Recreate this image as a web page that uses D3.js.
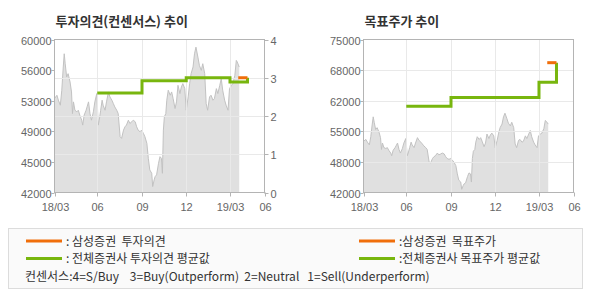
<!DOCTYPE html>
<html>
<head>
<meta charset="utf-8">
<script src="https://d3js.org/d3.v7.min.js"></script>
<style>
  body { margin:0; background:#fff; }
  text { font-family:"Liberation Sans", Arial, sans-serif; }
  .kr { font-family:"Noto Sans CJK KR", sans-serif; }
</style>
</head>
<body>
<div class="chart"></div>
<script>
// stock price (won)
var priceDates = ["2018-03-05","2018-03-10","2018-03-13","2018-03-17","2018-03-20","2018-03-23","2018-03-25","2018-03-27","2018-03-30","2018-04-02",
    "2018-04-06","2018-04-09","2018-04-11","2018-04-13","2018-04-16","2018-04-20","2018-04-23","2018-04-26","2018-04-30","2018-05-02",
    "2018-05-05","2018-05-09","2018-05-11","2018-05-14","2018-05-17","2018-05-20","2018-05-24","2018-05-27","2018-05-31","2018-06-03",
    "2018-06-05","2018-06-08","2018-06-11","2018-06-13","2018-06-17","2018-06-20","2018-06-24","2018-06-27","2018-07-01","2018-07-04",
    "2018-07-07","2018-07-11","2018-07-14","2018-07-18","2018-07-21","2018-07-25","2018-07-28","2018-07-31","2018-08-04","2018-08-07",
    "2018-08-11","2018-08-14","2018-08-18","2018-08-21","2018-08-24","2018-08-28","2018-08-31","2018-09-04","2018-09-07","2018-09-11",
    "2018-09-14","2018-09-17","2018-09-21","2018-09-23","2018-09-26","2018-09-28","2018-10-01","2018-10-05","2018-10-08","2018-10-11",
    "2018-10-13","2018-10-15","2018-10-17","2018-10-20","2018-10-22","2018-10-25","2018-10-29","2018-11-01","2018-11-04","2018-11-08",
    "2018-11-11","2018-11-14","2018-11-18","2018-11-21","2018-11-24","2018-11-28","2018-12-01","2018-12-05","2018-12-08","2018-12-11",
    "2018-12-15","2018-12-18","2018-12-21","2018-12-25","2018-12-28","2019-01-01","2019-01-04","2019-01-08","2019-01-11","2019-01-14",
    "2019-01-18","2019-01-21","2019-01-25","2019-01-28","2019-02-01","2019-02-04","2019-02-08","2019-02-11","2019-02-14","2019-02-18",
    "2019-02-21","2019-02-25","2019-02-28","2019-03-04","2019-03-07","2019-03-11","2019-03-14","2019-03-16","2019-03-20"];
var priceValues = [53050,53440,52860,52270,54030,56760,58320,57150,55590,55980,
    55000,53830,51290,52660,51680,51490,51680,51100,50510,49930,
    51100,51680,52070,52660,51290,50510,51490,52660,53640,49930,
    50510,51680,52860,52270,51680,52660,53830,53250,52860,52470,
    52070,51680,51290,48560,48370,49340,49730,49930,50510,50120,
    50320,50510,50320,49730,49340,49150,49340,48950,48560,47780,
    46020,44660,44260,42700,43480,43870,44070,45440,46220,46020,
    44260,49340,50900,51290,52860,54030,53440,53830,53050,51880,
    52660,54610,53640,54420,54810,54220,51680,53250,54810,55980,
    56760,58320,59100,57930,56960,56370,57150,55980,52470,51680,
    53250,53440,52860,53050,54220,53640,54610,55390,54030,52860,
    52270,51680,54220,54610,54810,55780,57540,57350,56760];

// 투자의견 consensus (전체증권사 평균) and 삼성증권
var opinionAvgDates = ["2018-06-01","2018-09-01","2018-12-01","2019-03-01","2019-04-06"];
var opinionAvgValues = [2.6, 2.92, 3.0, 2.89, 3.0];
var opinionSsDates = ["2019-03-18","2019-04-06"];
var opinionSsValues = [3.0, 3.0];

// 목표주가
var targetAvgDates = ["2018-06-01","2018-09-01","2019-03-01","2019-04-06"];
var targetAvgValues = [60600, 62500, 65800, 70000];
var targetSsDates = ["2019-03-18","2019-04-06"];
var targetSsValues = [70000, 70000];

// axis ticks
var xTickDates = ["2018-03-05","2018-06-01","2018-09-01","2018-12-01","2019-03-01","2019-05-11"];
var xTickLabels = ["18/03","06","09","12","19/03","06"];
var leftTicks1 = [42000,45600,49200,52800,56400,60000];
var leftLabels1 = ["42000","45000","49000","53000","56000","60000"];
var rightTicks1 = [0,1,2,3,4];
var leftTicks2 = [42000,48600,55200,61800,68400,75000];
var leftLabels2 = ["42000","48000","55000","62000","68000","75000"];

var parse = d3.timeParse("%Y-%m-%d");
var priceData = priceDates.map(function(d,i){ return {date:parse(d), value:priceValues[i]}; });
function zipData(dates, values){
    return dates.map(function(d,i){ return {date:parse(d), value:values[i]}; });
}

var orange = "#f06e0a",
    green = "#78b60e",
    axisColor = "#b4b4b4",
    gridColor = "#e9e9e9";

var svg = d3.select(".chart").append("svg")
    .attr("width", 590)
    .attr("height", 300);

function drawPanel(opt)
{
    var g = svg.append("g");
    var x = d3.scaleTime()
        .domain([parse("2018-03-05"), parse("2019-05-11")])
        .range([opt.x0, opt.x1]);
    var yPrice = d3.scaleLinear()
        .domain(opt.priceDomain)
        .range([192.5, 39.5]);
    var yLine = opt.lineScale || yPrice;

    // title
    g.append("text")
        .attr("class","kr")
        .attr("x", opt.x0 + 1)
        .attr("y", 26)
        .attr("font-size", 13)
        .attr("font-weight", "bold")
        .attr("fill", "#333")
        .text(opt.title);

    // price area
    var area = d3.area()
        .x(function(d){ return x(d.date); })
        .y0(192.5)
        .y1(function(d){ return yPrice(d.value); });
    var line = d3.line()
        .x(function(d){ return x(d.date); })
        .y(function(d){ return yPrice(d.value); });
    g.append("path")
        .datum(priceData)
        .attr("d", area)
        .attr("fill", "#e0e0e0");
    g.append("path")
        .datum(priceData)
        .attr("d", line)
        .attr("fill", "none")
        .attr("stroke", "#c2c2c2")
        .attr("stroke-width", 1);

    // grid
    xTickDates.slice(1, 5).forEach(function(d){
        g.append("line")
            .attr("x1", Math.round(x(parse(d))) + 0.5).attr("x2", Math.round(x(parse(d))) + 0.5)
            .attr("y1", 39.5).attr("y2", 192.5)
            .attr("stroke", gridColor);
    });
    opt.gridValues.forEach(function(v){
        g.append("line")
            .attr("x1", opt.x0).attr("x2", opt.x1)
            .attr("y1", Math.round(yLine(v)) + 0.5).attr("y2", Math.round(yLine(v)) + 0.5)
            .attr("stroke", gridColor);
    });

    // frame
    g.append("rect")
        .attr("x", opt.x0).attr("y", 39.5)
        .attr("width", opt.x1 - opt.x0).attr("height", 153)
        .attr("fill", "none")
        .attr("stroke", axisColor);

    // x axis ticks/labels
    xTickDates.forEach(function(d, i){
        var xx = Math.round(x(parse(d))) + 0.5;
        g.append("line")
            .attr("x1", xx).attr("x2", xx)
            .attr("y1", 192.5).attr("y2", 196.5)
            .attr("stroke", axisColor);
        g.append("text")
            .attr("x", xx)
            .attr("y", 211)
            .attr("text-anchor", "middle")
            .attr("font-size", 11)
            .attr("fill", "#666")
            .text(xTickLabels[i]);
    });

    // left labels
    opt.leftTicks.forEach(function(v, i){
        var yy = Math.round(yPrice(v)) + 0.5;
        g.append("line")
            .attr("x1", opt.x0 - 3).attr("x2", opt.x0)
            .attr("y1", yy).attr("y2", yy)
            .attr("stroke", axisColor);
        g.append("text")
            .attr("x", opt.x0 - 3)
            .attr("y", yy + 4)
            .attr("text-anchor", "end")
            .attr("font-size", 11)
            .attr("fill", "#666")
            .text(opt.leftLabels[i]);
    });

    // right labels (opinion scale)
    if (opt.lineScale) {
        rightTicks1.forEach(function(v){
            var yy = Math.round(yLine(v)) + 0.5;
            g.append("line")
                .attr("x1", opt.x1).attr("x2", opt.x1 + 4)
                .attr("y1", yy).attr("y2", yy)
                .attr("stroke", axisColor);
            g.append("text")
                .attr("x", opt.x1 + 6)
                .attr("y", yy + 4)
                .attr("font-size", 11)
                .attr("fill", "#666")
                .text(v);
        });
    }

    var step = d3.line()
        .x(function(d){ return x(d.date); })
        .y(function(d){ return yLine(d.value); })
        .curve(d3.curveStepAfter);
    g.append("path")
        .datum(opt.avgData)
        .attr("d", step)
        .attr("fill", "none")
        .attr("stroke", green)
        .attr("stroke-width", 3);
    g.append("path")
        .datum(opt.ssData)
        .attr("d", step)
        .attr("fill", "none")
        .attr("stroke", orange)
        .attr("stroke-width", 3);
}

var opinionScale = d3.scaleLinear().domain([0, 4]).range([192.5, 39.5]);

drawPanel({
    title: "투자의견(컨센서스) 추이",
    x0: 54.5, x1: 264.5,
    priceDomain: [42000, 60000],
    leftTicks: leftTicks1, leftLabels: leftLabels1,
    lineScale: opinionScale,
    gridValues: [1, 2, 3],
    avgData: zipData(opinionAvgDates, opinionAvgValues),
    ssData: zipData(opinionSsDates, opinionSsValues)
});

drawPanel({
    title: "목표주가 추이",
    x0: 363.5, x1: 573.5,
    priceDomain: [42000, 75000],
    leftTicks: leftTicks2, leftLabels: leftLabels2,
    gridValues: leftTicks2.slice(1, 5),
    avgData: zipData(targetAvgDates, targetAvgValues),
    ssData: zipData(targetSsDates, targetSsValues)
});

// legend
var legend = svg.append("g");
legend.append("rect")
    .attr("x", 8.5).attr("y", 228.5)
    .attr("width", 574).attr("height", 60)
    .attr("fill", "#fafafa")
    .attr("stroke", "#dcdcdc");

var legendItems = [
    {x:26, y:241, color:orange, label:": 삼성증권  투자의견"},
    {x:26, y:258.5, color:green, label:": 전체증권사 투자의견 평균값"},
    {x:359, y:241, color:orange, label:":삼성증권  목표주가"},
    {x:359, y:258.5, color:green, label:":전체증권사 목표주가 평균값"}
];
legendItems.forEach(function(d){
    legend.append("line")
        .attr("x1", d.x).attr("x2", d.x + 36)
        .attr("y1", d.y).attr("y2", d.y)
        .attr("stroke", d.color)
        .attr("stroke-width", 3);
    legend.append("text")
        .attr("class", "kr")
        .attr("x", d.x + 40)
        .attr("y", d.y + 4.5)
        .attr("font-size", 12)
        .attr("fill", "#333")
        .style("white-space", "pre")
        .text(d.label);
});
legend.append("text")
    .attr("class", "kr")
    .attr("x", 25)
    .attr("y", 281)
    .attr("font-size", 12)
    .attr("fill", "#333")
    .style("white-space", "pre")
    .text("컨센서스:4=S/Buy    3=Buy(Outperform)  2=Neutral   1=Sell(Underperform)");
</script>
</body>
</html>
